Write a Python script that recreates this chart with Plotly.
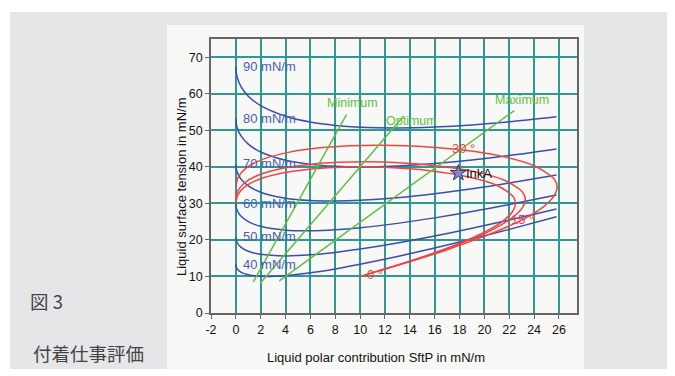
import plotly.graph_objects as go

# ---------------- data ----------------
# work-of-adhesion isolines (blue): shared x grid, y for each level
wa_x = [0, 0.02, 0.1, 0.4, 1, 2, 4, 6, 8, 10, 13, 16, 19, 22, 25.8]
wa90_y = [67.5, 66.19, 64.63, 62.03, 59.35, 56.75, 53.86, 52.26, 51.33, 50.83, 50.63, 50.89, 51.48, 52.34, 53.71]
wa80_y = [53.33, 52.17, 50.8, 48.53, 46.23, 44.07, 41.8, 40.68, 40.15, 40.0, 40.26, 40.94, 41.91, 43.11, 44.9]
wa70_y = [40.83, 39.82, 38.63, 36.7, 34.79, 33.07, 31.41, 30.76, 30.63, 30.83, 31.56, 32.65, 34.0, 35.56, 37.75]
wa60_y = [30.0, 29.13, 28.13, 26.53, 25.01, 23.72, 22.68, 22.51, 22.78, 23.33, 24.53, 26.04, 27.77, 29.67, 32.28]
wa50_y = [20.83, 20.11, 19.3, 18.03, 16.9, 16.05, 15.63, 15.92, 16.59, 17.5, 19.16, 21.08, 23.19, 25.45, 28.46]
wa40_y = [13.33, 12.76, 12.13, 11.2, 10.45, 10.04, 10.23, 11.01, 12.07, 13.33, 15.46, 17.8, 20.29, 22.89, 26.32]
wa_labels = ["90 mN/m", "80 mN/m", "70 mN/m", "60 mN/m", "50 mN/m", "40 mN/m"]

# wetting envelopes (red) for contact angles 0, 15, 30 degrees
env0_x = [0, 0.16, 0.69, 1.83, 3.84, 5.91, 7.97, 10.0, 11.96, 15.59, 18.66, 20.98, 22.31, 22.5, 22.28, 21.56, 20.15, 17.62, 14.95, 13.51, 10.0]
env0_y = [30.0, 32.35, 34.45, 36.55, 38.39, 39.37, 39.86, 40.0, 39.88, 38.97, 37.32, 34.97, 31.87, 30.0, 27.85, 25.36, 22.39, 18.55, 15.25, 13.65, 10.0]
env15_x = [0, 0.17, 0.71, 1.89, 3.97, 6.12, 8.25, 10.35, 12.38, 16.14, 19.31, 21.71, 23.09, 23.29, 23.06, 22.31, 20.86, 18.24, 15.47, 13.98, 10.35]
env15_y = [31.05, 33.48, 35.66, 37.83, 39.73, 40.75, 41.25, 41.4, 41.28, 40.33, 38.63, 36.19, 32.99, 31.05, 28.82, 26.25, 23.17, 19.2, 15.78, 14.13, 10.35]
env30_x = [0, 0.19, 0.79, 2.1, 4.41, 6.79, 9.16, 11.49, 13.74, 17.91, 21.44, 24.1, 25.63, 25.85, 25.59, 24.77, 23.15, 20.24, 17.17, 15.52, 11.49]
env30_y = [34.46, 37.16, 39.58, 41.99, 44.1, 45.23, 45.79, 45.95, 45.81, 44.77, 42.87, 40.17, 36.61, 34.46, 31.99, 29.13, 25.72, 21.31, 17.52, 15.68, 11.49]
env_labels = ["0 °", "15 °", "30 °"]
env_label_x = [11.2, 23.1, 18.3]
env_label_y = [10.5, 25.5, 45.1]

# polarity guide lines (green)
min_x = [1.4, 8.9]
min_y = [8.5, 54.3]
opt_x = [2.0, 13.5]
opt_y = [8.3, 53.9]
max_x = [3.5, 22.4]
max_y = [8.8, 55.4]
guide_labels = ["Minimum", "Optimum", "Maximum"]
guide_label_x = [9.4, 14.1, 23.0]
guide_label_y = [57.5, 52.6, 58.2]

# ink sample
ink_x = [17.9]
ink_y = [38.3]
ink_name = "InkA"

x_ticks = list(range(-2, 27, 2))
y_ticks = list(range(0, 71, 10))

# ---------------- styling ----------------
BLUE = "#3a4db0"
BLUE_TXT = "#4a5cb8"
RED = "#f24444"
GREEN = "#62bf3e"
GRID = "#2f9892"
AXIS = "#666666"
FONT = "Liberation Sans, Arial, sans-serif"

fig = go.Figure()

wa_series = [wa90_y, wa80_y, wa70_y, wa60_y, wa50_y, wa40_y]
for ys in wa_series:
    fig.add_trace(go.Scatter(x=wa_x, y=ys, mode="lines",
                             line=dict(color=BLUE, width=1.5, shape="spline", smoothing=0.8),
                             hoverinfo="skip", showlegend=False))

for ex, ey in [(env0_x, env0_y), (env15_x, env15_y), (env30_x, env30_y)]:
    fig.add_trace(go.Scatter(x=ex, y=ey, mode="lines",
                             line=dict(color=RED, width=1.5, shape="spline", smoothing=0.8),
                             hoverinfo="skip", showlegend=False))

for gx, gy in [(min_x, min_y), (opt_x, opt_y), (max_x, max_y)]:
    fig.add_trace(go.Scatter(x=gx, y=gy, mode="lines",
                             line=dict(color=GREEN, width=1.5),
                             hoverinfo="skip", showlegend=False))

fig.add_trace(go.Scatter(x=ink_x, y=ink_y, mode="markers",
                         marker=dict(symbol="star", size=12, color="#7f88c2",
                                     line=dict(color="#2e3570", width=1)),
                         hoverinfo="skip", showlegend=False))

annotations = []
for lab, ys in zip(wa_labels, wa_series):
    annotations.append(dict(x=0.4, y=ys[0], xref="x", yref="y", text=lab, showarrow=False,
                            xanchor="left", yanchor="middle",
                            font=dict(family=FONT, size=13, color=BLUE_TXT)))
for lab, lx, ly in zip(env_labels, env_label_x, env_label_y):
    annotations.append(dict(x=lx, y=ly, xref="x", yref="y", text=lab, showarrow=False,
                            xanchor="center", yanchor="middle",
                            font=dict(family=FONT, size=13, color=RED)))
for lab, lx, ly in zip(guide_labels, guide_label_x, guide_label_y):
    annotations.append(dict(x=lx, y=ly, xref="x", yref="y", text=lab, showarrow=False,
                            xanchor="center", yanchor="middle",
                            font=dict(family=FONT, size=12.5, color=GREEN)))
annotations.append(dict(x=ink_x[0] + 0.45, y=ink_y[0], xref="x", yref="y", text=ink_name,
                        showarrow=False, xanchor="left", yanchor="middle",
                        font=dict(family=FONT, size=13, color="#111111")))

# axis titles and side captions (paper coordinates)
annotations.append(dict(x=0.4508, y=-0.164, xref="paper", yref="paper",
                        text="Liquid polar contribution SftP in mN/m", showarrow=False,
                        xanchor="center", yanchor="middle",
                        font=dict(family=FONT, size=13, color="#111111")))
annotations.append(dict(x=-0.0806, y=0.458, xref="paper", yref="paper",
                        text="Liquid surface tension in mN/m", showarrow=False, textangle=-90,
                        xanchor="center", yanchor="middle",
                        font=dict(family=FONT, size=13, color="#111111")))
annotations.append(dict(x=-0.5, y=0.044, xref="paper", yref="paper", text="図 3",
                        showarrow=False, xanchor="left", yanchor="middle",
                        font=dict(family="Noto Sans CJK JP", size=18.5, color="#444444")))
annotations.append(dict(x=-0.4918, y=-0.146, xref="paper", yref="paper", text="付着仕事評価",
                        showarrow=False, xanchor="left", yanchor="middle",
                        font=dict(family="Noto Sans CJK JP", size=18.5, color="#444444")))

shapes = [
    dict(type="rect", xref="paper", yref="paper", x0=-0.5492, x1=1.3, y0=-0.2044, y1=1.0985,
         fillcolor="#e5e6e8", line=dict(width=0), layer="below"),
    dict(type="rect", xref="paper", yref="paper", x0=-0.1202, x1=1.0191, y0=-0.2044, y1=1.0511,
         fillcolor="#f8f8f6", line=dict(width=0), layer="below"),
]

# the page adds an 8px body margin, so the figure is 8px smaller and offset
fig.update_layout(
    width=667, height=368,
    margin=dict(l=203, r=98, t=31, b=63, pad=0),
    paper_bgcolor="#ffffff",
    plot_bgcolor="rgba(0,0,0,0)",
    shapes=shapes,
    annotations=annotations,
    showlegend=False,
    xaxis=dict(range=[-2, 27.45], tickvals=x_ticks, ticktext=[str(v) for v in x_ticks],
               showgrid=True, gridcolor=GRID, gridwidth=1.6, zeroline=False,
               showline=True, linecolor=AXIS, linewidth=1.6, mirror=True,
               ticks="outside", ticklen=4, tickcolor=AXIS, tickwidth=1,
               tickfont=dict(family=FONT, size=12.5, color="#111111")),
    yaxis=dict(range=[0, 75], tickvals=y_ticks, ticktext=[str(v) for v in y_ticks],
               showgrid=True, gridcolor=GRID, gridwidth=1.6, zeroline=False,
               showline=True, linecolor=AXIS, linewidth=1.6, mirror=True,
               ticks="outside", ticklen=4, tickcolor=AXIS, tickwidth=1,
               tickfont=dict(family=FONT, size=12.5, color="#111111")),
)

fig.write_html("out.html")
